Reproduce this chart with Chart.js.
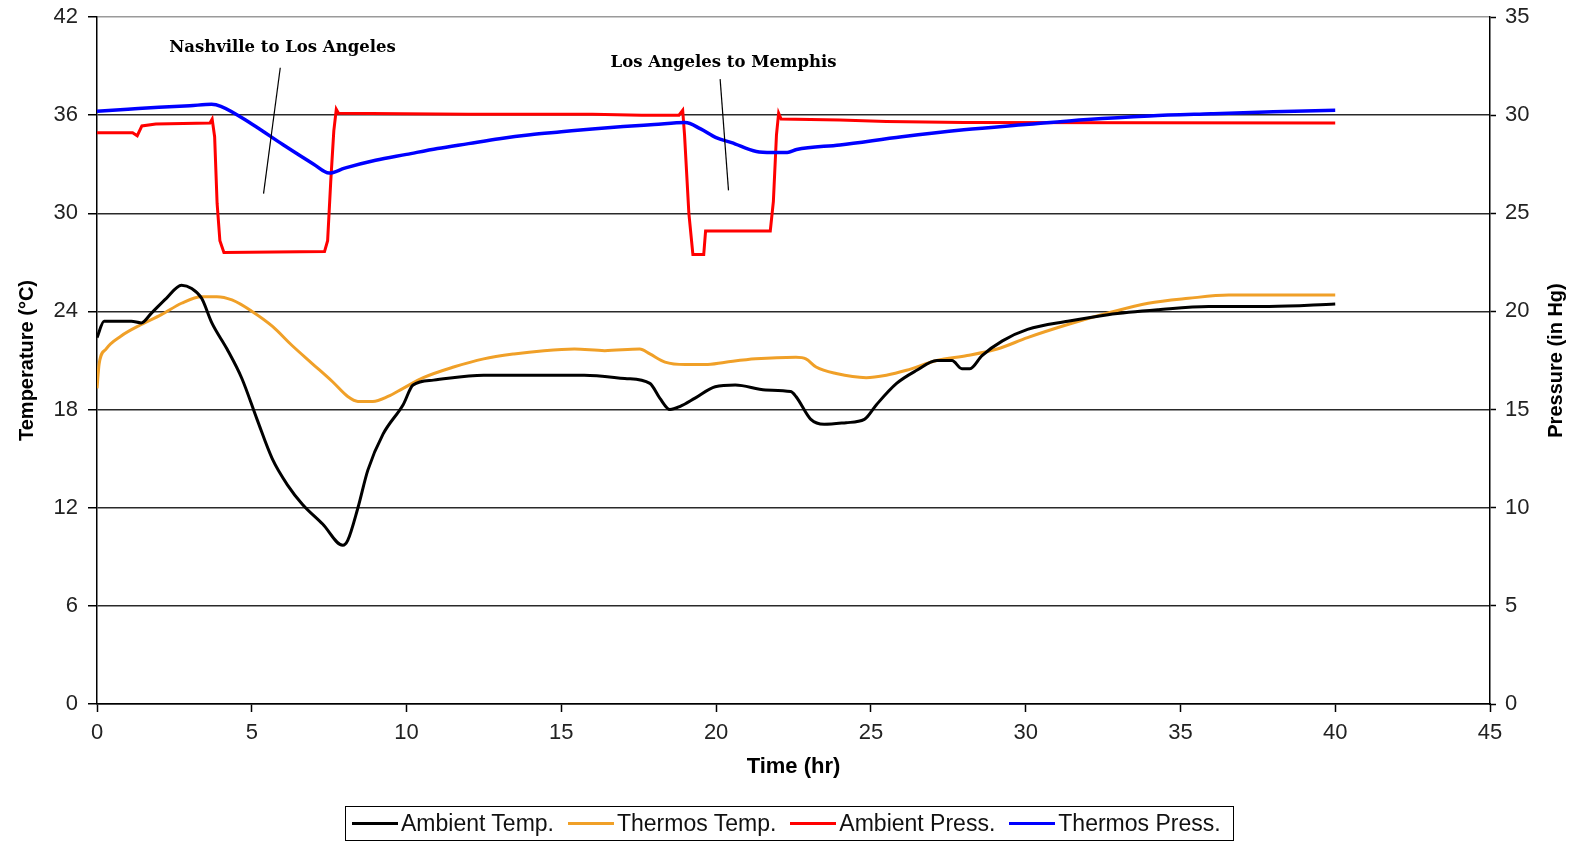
<!DOCTYPE html>
<html>
<head>
<meta charset="utf-8">
<title>Temperature and pressure during transit</title>
<script src="https://cdn.jsdelivr.net/npm/chart.js@4.4.1/dist/chart.umd.min.js"></script>
<style>
    body { margin: 0; background: #fff; }
    #wrap { position: relative; width: 1579px; height: 843px; }
    #legend {
        position: absolute; left: 345px; top: 806px; width: 889px; height: 35px;
        box-sizing: border-box; border: 1.5px solid #000;
        display: flex; align-items: center; padding-left: 6px; gap: 14px;
        font: 23px "Liberation Sans", Arial, sans-serif; color: #111;
    }
    #legend .item { display: flex; align-items: center; white-space: nowrap; }
    #legend .swatch { display: inline-block; width: 46px; height: 0; border-top: 3px solid; margin-right: 3px; }
</style>
</head>
<body>
<div id="wrap">
    <canvas id="transit-chart" width="1579" height="843"></canvas>
    <div id="legend"></div>
</div>
<script>
// hours since departure, temperature in degC, pressure in in Hg
const ambientTempHours = [0, 0.23, 1.11, 1.43, 1.76, 2.24, 2.73, 3.06, 3.38, 3.71, 4.2, 4.68, 5.17, 5.66, 6.15,
    6.64, 7.29, 7.94, 8.1, 8.43, 8.75, 9.24, 9.89, 10.21, 10.87, 12.49, 15.74, 17.05, 17.86, 18.18,
    18.51, 18.84, 19.32, 19.97, 20.62, 21.6, 22.41, 22.58, 23.06, 23.49, 24.2, 24.79, 25.18, 25.83, 26.48,
    27.13, 27.62, 27.94, 28.2, 28.59, 29.25, 30.06, 31.36, 32.66, 34.29, 35.91, 37.87, 40];
const ambientTemp = [22.4, 23.4, 23.4, 23.3, 23.9, 24.8, 25.6, 25.4, 24.8, 23.3, 21.7, 19.9, 17.4, 15.0, 13.4,
    12.2, 11.0, 9.7, 10.0, 12.0, 14.3, 16.5, 18.3, 19.5, 19.8, 20.1, 20.1, 19.9, 19.6, 18.7,
    18.0, 18.2, 18.7, 19.4, 19.5, 19.2, 19.1, 18.8, 17.4, 17.1, 17.2, 17.4, 18.3, 19.6, 20.4,
    21.0, 21.0, 20.5, 20.5, 21.3, 22.2, 22.9, 23.4, 23.8, 24.1, 24.3, 24.3, 24.45];

const thermosTempHours = [0, 0.07, 0.29, 0.78, 1.43, 2.08, 2.73, 3.38, 3.87, 4.36, 5.01, 5.66, 6.31, 6.96, 7.61,
    8.1, 8.43, 8.91, 9.4, 9.89, 10.54, 11.52, 12.49, 13.47, 14.44, 15.42, 16.4, 17.53, 17.86, 18.35,
    19.0, 19.65, 20.3, 21.28, 22.58, 22.9, 23.23, 23.88, 24.85, 25.5, 26.15, 27.13, 28.11, 29.08, 30.06,
    31.36, 32.66, 33.96, 35.26, 36.56, 40];
const thermosTemp = [19.3, 20.8, 21.7, 22.5, 23.2, 23.8, 24.5, 24.9, 24.9, 24.7, 24.0, 23.1, 21.9, 20.8, 19.7,
    18.8, 18.5, 18.5, 18.8, 19.3, 19.95, 20.6, 21.1, 21.4, 21.6, 21.7, 21.6, 21.7, 21.4, 20.9,
    20.75, 20.75, 20.9, 21.1, 21.2, 21.1, 20.6, 20.2, 19.95, 20.1, 20.4, 21.0, 21.3, 21.7, 22.4,
    23.2, 23.9, 24.5, 24.8, 25.0, 25.0];

const ambientPressHours = [0, 1.15, 1.3, 1.45, 1.9, 3.65, 3.72, 3.8, 3.88, 3.97, 4.1, 7.35, 7.45, 7.55, 7.65,
    7.73, 7.8, 12, 16, 17.6, 18.8, 18.92, 18.98, 19.12, 19.25, 19.6, 19.66, 21.75, 21.85, 21.95,
    22.02, 22.1, 24, 25.5, 28, 40];
const ambientPress = [29.1, 29.1, 28.95, 29.45, 29.55, 29.6, 29.8, 28.9, 25.5, 23.6, 23.0, 23.05, 23.6, 26.6, 29.2,
    30.3, 30.1, 30.05, 30.05, 30.0, 30.0, 30.25, 29.0, 25.0, 22.9, 22.9, 24.1, 24.1, 25.6, 29.0,
    30.1, 29.8, 29.75, 29.68, 29.63, 29.6];

const thermosPressHours = [0, 1, 2, 3, 3.7, 4, 5, 6, 7, 7.5, 8, 9, 10, 11, 12, 13, 14, 15, 16, 17, 18, 19,
    19.5, 20, 20.5, 21.3, 21.8, 22.3, 22.6, 24, 26, 28, 30, 32, 34, 36, 38, 40];
const thermosPress = [30.2, 30.3, 30.4, 30.48, 30.55, 30.45, 29.55, 28.5, 27.5, 27.05, 27.3, 27.7, 28.0, 28.3,
    28.55, 28.8, 29.0, 29.15, 29.3, 29.42, 29.52, 29.62, 29.3, 28.85, 28.6, 28.15, 28.1, 28.1, 28.25,
    28.48, 28.9, 29.25, 29.52, 29.78, 29.96, 30.07, 30.17, 30.25];

const seriesLabels = ["Ambient Temp.", "Thermos Temp.", "Ambient Press.", "Thermos Press."];
const seriesColors = ["#000000", "#f0a028", "#ff0000", "#0000ff"];

// route notes, anchored in hours / degC
const routeNotes = [
    { text: "Nashville to Los Angeles", hr: 5.99, temp: 40.1, from: [5.92, 38.9], to: [5.38, 31.2] },
    { text: "Los Angeles to Memphis", hr: 20.24, temp: 39.2, from: [20.13, 38.2], to: [20.4, 31.4] }
];

const baseFont = "'Liberation Sans', Arial, sans-serif";

function toPoints(xs, ys) {
    return xs.map((x, i) => ({ x, y: ys[i] }));
}

// keep the plot box fixed: no extra room for half-labels at the ends
function noEdgePadding(scale) {
    scale.paddingTop = 0;
    scale.paddingBottom = 0;
    scale.paddingLeft = 0;
    scale.paddingRight = 0;
}

const routeNotesPlugin = {
    id: "routeNotes",
    afterDatasetsDraw(chart) {
        const { ctx } = chart;
        const xs = chart.scales.x;
        const ys = chart.scales.y;
        ctx.save();
        ctx.strokeStyle = "#000";
        ctx.lineWidth = 1.2;
        ctx.fillStyle = "#000";
        ctx.font = "bold 16.5px 'DejaVu Serif', 'Liberation Serif', serif";
        ctx.textAlign = "center";
        ctx.textBaseline = "middle";
        routeNotes.forEach(note => {
            ctx.fillText(note.text, xs.getPixelForValue(note.hr), ys.getPixelForValue(note.temp));
            ctx.beginPath();
            ctx.moveTo(xs.getPixelForValue(note.from[0]), ys.getPixelForValue(note.from[1]));
            ctx.lineTo(xs.getPixelForValue(note.to[0]), ys.getPixelForValue(note.to[1]));
            ctx.stroke();
        });
        ctx.restore();
    }
};

// right axis title reads bottom-to-top, so it is drawn here
const pressureTitlePlugin = {
    id: "pressureTitle",
    afterDraw(chart) {
        const { ctx, chartArea } = chart;
        const scale = chart.scales.y1;
        ctx.save();
        ctx.translate(scale.right - 11, (chartArea.top + chartArea.bottom) / 2);
        ctx.rotate(-Math.PI / 2);
        ctx.font = `bold 20px ${baseFont}`;
        ctx.fillStyle = "#000";
        ctx.textAlign = "center";
        ctx.textBaseline = "middle";
        ctx.fillText("Pressure (in Hg)", 0, 0);
        ctx.restore();
    }
};

document.addEventListener("DOMContentLoaded", () => {
    const ctx = document.getElementById("transit-chart").getContext("2d");
    const tickFont = { family: baseFont, size: 22 };

    const chart = new Chart(ctx, {
        type: "line",
        data: {
            datasets: [{
                label: seriesLabels[0],
                data: toPoints(ambientTempHours, ambientTemp),
                borderColor: seriesColors[0],
                yAxisID: "y",
                cubicInterpolationMode: "monotone",
                order: 0
            }, {
                label: seriesLabels[1],
                data: toPoints(thermosTempHours, thermosTemp),
                borderColor: seriesColors[1],
                yAxisID: "y",
                cubicInterpolationMode: "monotone",
                order: 1
            }, {
                label: seriesLabels[2],
                data: toPoints(ambientPressHours, ambientPress),
                borderColor: seriesColors[2],
                yAxisID: "y1",
                tension: 0,
                order: 3
            }, {
                label: seriesLabels[3],
                data: toPoints(thermosPressHours, thermosPress),
                borderColor: seriesColors[3],
                yAxisID: "y1",
                cubicInterpolationMode: "monotone",
                borderWidth: 3.5,
                order: 2
            }]
        },
        options: {
            responsive: false,
            animation: false,
            devicePixelRatio: 1,
            layout: { padding: { left: 15, right: 12, top: 17, bottom: 62.5 } },
            elements: {
                point: { radius: 0 },
                line: { borderWidth: 3, fill: false }
            },
            plugins: { legend: { display: false }, tooltip: { enabled: false } },
            scales: {
                x: {
                    type: "linear",
                    min: 0,
                    max: 45,
                    ticks: { stepSize: 5, font: tickFont, color: "#222", padding: 8, maxRotation: 0 },
                    grid: { drawOnChartArea: false, drawTicks: true, tickLength: 8, tickColor: "#000", tickWidth: 1.5 },
                    border: { color: "#000", width: 1.5 },
                    title: { display: true, text: "Time (hr)", color: "#000", padding: 0,
                        font: { family: baseFont, size: 22, weight: "bold" } },
                    afterFit: scale => { noEdgePadding(scale); scale.height = 76.5; }
                },
                y: {
                    position: "left",
                    min: 0,
                    max: 42,
                    ticks: { stepSize: 6, font: tickFont, color: "#222", padding: 10 },
                    grid: {
                        color: c => (c.tick && c.tick.value === 42 ? "#9a9a9a" : "#2a2a2a"),
                        lineWidth: 1.5,
                        tickLength: 9,
                        tickColor: "#000"
                    },
                    border: { color: "#000", width: 1.5 },
                    title: { display: true, text: "Temperature (°C)", color: "#000", padding: 0,
                        font: { family: baseFont, size: 20, weight: "bold" } },
                    afterFit: scale => { noEdgePadding(scale); scale.width = 82; }
                },
                y1: {
                    position: "right",
                    min: 0,
                    max: 35,
                    ticks: { stepSize: 5, font: tickFont, color: "#222", padding: 9 },
                    grid: { drawOnChartArea: false, tickLength: 6, tickColor: "#000", tickWidth: 1.5 },
                    border: { color: "#000", width: 1.5 },
                    afterFit: scale => { noEdgePadding(scale); scale.width = 77; }
                }
            }
        },
        plugins: [routeNotesPlugin, pressureTitlePlugin]
    });

    const legend = document.getElementById("legend");
    legend.innerHTML = chart.data.datasets.map(ds => `
        <span class="item"><span class="swatch" style="border-top-color:${ds.borderColor}"></span>${ds.label}</span>`).join("");
});
</script>
</body>
</html>
